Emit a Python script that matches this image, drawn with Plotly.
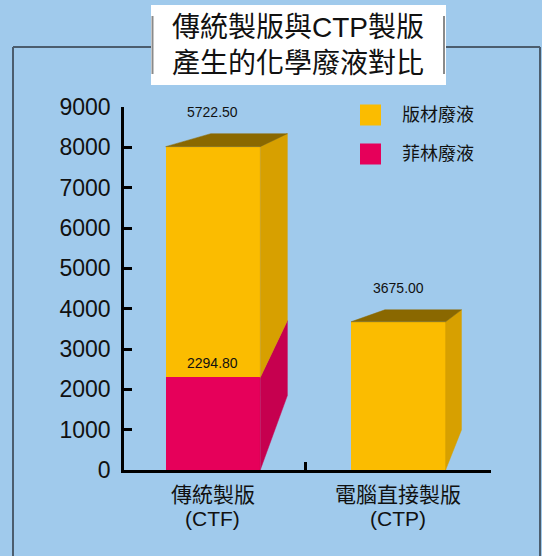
import plotly.graph_objects as go

# ---------------- data ----------------
CATEGORIES = ["傳統製版\n(CTF)", "電腦直接製版\n(CTP)"]
SERIES = ["版材廢液", "菲林廢液"]          # legend order
FILM = [2294.80, 0.0]                       # 菲林廢液 (bottom segment)
PLATE = [5722.50, 3675.00]                  # 版材廢液 (top segment)
Y_TICKS = [0, 1000, 2000, 3000, 4000, 5000, 6000, 7000, 8000, 9000]
TITLE = "傳統製版與CTP製版<br>產生的化學廢液對比"

# ---------------- style ----------------
BG = "#A0CAEC"
YEL, YEL_SIDE, YEL_TOP = "#FBBC00", "#D7A000", "#8A6800"
RED, RED_SIDE = "#E6005A", "#C6004F"
FRAME = "#4B5D6E"
BAR_W = 0.51
# perspective (vanishing point offset from front top-right corner, in data units) and depth scale
VP_DX = [0.77, 0.45]
VP_DY = [1690, 1560]
DEPTH_S = 0.81

W, H = 542, 556
ML, MR, MT, MB = 124, 51, 107, 86
PW, PH = W - ML - MR, H - MT - MB


def px(xp):
    return (xp - ML) / PW


def py(yp):
    return (H - MB - yp) / PH


fig = go.Figure()

# side / top faces computed from data
for i in range(len(CATEGORIES)):
    xl, xr = i - BAR_W / 2, i + BAR_W / 2
    total = FILM[i] + PLATE[i]
    vx, vy = xr + VP_DX[i], total + VP_DY[i]

    def back(x, y):
        return vx + DEPTH_S * (x - vx), vy + DEPTH_S * (y - vy)

    segs = [(0, FILM[i], RED_SIDE), (FILM[i], total, YEL_SIDE)]
    for y0, y1, col in segs:
        if y1 - y0 <= 0:
            continue
        b1 = back(xr, y1)
        b0 = back(xr, y0)
        fig.add_trace(go.Scatter(
            x=[xr, xr, b1[0], b0[0], xr], y=[y0, y1, b1[1], b0[1], y0],
            mode="lines", fill="toself", fillcolor=col,
            line=dict(width=0.5, color=col), hoverinfo="skip",
            showlegend=False, cliponaxis=False))
    bl = back(xl, total)
    br = back(xr, total)
    fig.add_trace(go.Scatter(
        x=[xl, xr, br[0], bl[0], xl], y=[total, total, br[1], bl[1], total],
        mode="lines", fill="toself", fillcolor=YEL_TOP,
        line=dict(width=0.5, color=YEL_TOP), hoverinfo="skip",
        showlegend=False, cliponaxis=False))

xs = list(range(len(CATEGORIES)))
fig.add_trace(go.Bar(x=xs, y=FILM, width=BAR_W, marker=dict(color=RED, line=dict(width=0)),
                     name=SERIES[1], showlegend=False))
fig.add_trace(go.Bar(x=xs, y=PLATE, width=BAR_W, marker=dict(color=YEL, line=dict(width=0)),
                     name=SERIES[0], showlegend=False))

annotations = []
# value labels
for i in xs:
    total = FILM[i] + PLATE[i]
    vx, vy = i + BAR_W / 2 + VP_DX[i], total + VP_DY[i]
    back_top = vy + DEPTH_S * (total - vy)
    annotations.append(dict(x=i, y=back_top, xref="x", yref="y", text=f"{PLATE[i]:.2f}",
                            showarrow=False, yanchor="middle", yshift=22,
                            font=dict(size=14, color="#111")))
    if FILM[i] > 0:
        annotations.append(dict(x=i, y=FILM[i], xref="x", yref="y", text=f"{FILM[i]:.2f}",
                                showarrow=False, yanchor="middle", yshift=14,
                                font=dict(size=14, color="#111")))

# category labels (two lines)
for i, cat in enumerate(CATEGORIES):
    l1, l2 = cat.split("\n")
    annotations.append(dict(x=i, y=py(495), xref="x", yref="paper", text=l1, showarrow=False,
                            yanchor="middle", font=dict(size=21, color="#111")))
    annotations.append(dict(x=i, y=py(518), xref="x", yref="paper", text=l2, showarrow=False,
                            yanchor="middle", font=dict(size=21, color="#111")))

# title
annotations.append(dict(x=px(298), y=py(45), xref="paper", yref="paper", text=TITLE,
                        showarrow=False, xanchor="center", yanchor="middle",
                        font=dict(size=28, color="#111")))

# legend (manual)
shapes = []
leg_cols = [YEL, RED]
leg_y = [115, 154]
for name, col, yc in zip(SERIES, leg_cols, leg_y):
    shapes.append(dict(type="rect", xref="paper", yref="paper", x0=px(360), x1=px(381),
                       y0=py(yc - 10.5), y1=py(yc + 10.5), fillcolor=col, line=dict(width=0)))
    annotations.append(dict(x=px(400), y=py(yc), xref="paper", yref="paper", text=name,
                            showarrow=False, xanchor="left", yanchor="middle",
                            font=dict(size=18, color="#111")))

# outer frame
for x0, y0, x1, y1 in [(13, 47, 540, 47), (13, 47, 13, 600), (540, 47, 540, 600)]:
    shapes.append(dict(type="line", xref="paper", yref="paper", x0=px(x0), y0=py(y0),
                       x1=px(x1), y1=py(y1), line=dict(color=FRAME, width=2), layer="below"))
# title box
shapes.append(dict(type="rect", xref="paper", yref="paper", x0=px(151), x1=px(446),
                   y0=py(85), y1=py(5), fillcolor="white", line=dict(width=0), layer="below"))
for xx in (152.5, 444):
    shapes.append(dict(type="line", xref="paper", yref="paper", x0=px(xx), x1=px(xx),
                       y0=py(16), y1=py(74), line=dict(color="#8A8A8A", width=2), layer="below"))

fig.update_layout(
    width=W, height=H,
    margin=dict(l=ML, r=MR, t=MT, b=MB),
    paper_bgcolor=BG, plot_bgcolor=BG,
    barmode="stack", bargap=0,
    font=dict(family="Liberation Sans, Arial, Noto Sans CJK TC", color="#111"),
    showlegend=False,
    annotations=annotations, shapes=shapes,
    xaxis=dict(range=[-0.48, 1.5], tickvals=[0.5, 1.5], ticks="inside", ticklen=8, tickwidth=2.5,
               tickcolor="black", showticklabels=False, showgrid=False, zeroline=False,
               showline=True, linecolor="black", linewidth=2.5, fixedrange=True),
    yaxis=dict(range=[0, 9000], tickvals=Y_TICKS, ticks="inside", ticklen=8, tickwidth=2.5,
               tickcolor="black", showgrid=False, zeroline=False, showline=True,
               linecolor="black", linewidth=2.5, tickfont=dict(size=23, color="#111"),
               ticklabelstandoff=6, fixedrange=True),
)

fig.write_html(
    "out.html",
    config={"displayModeBar": False},
    post_script="document.body.style.margin='0';document.body.style.background='%s';" % BG,
)
